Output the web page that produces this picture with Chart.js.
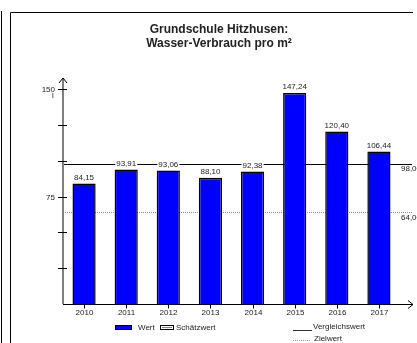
<!DOCTYPE html>
<html>
<head>
<meta charset="utf-8">
<script src="https://cdn.jsdelivr.net/npm/chart.js@4"></script>
<style>
html,body{margin:0;padding:0;background:#fff;}
#c{display:block;}
</style>
</head>
<body>
<canvas id="c" width="417" height="343" style="width:417px;height:343px"></canvas>
<script>
const titleLines = ['Grundschule Hitzhusen:', 'Wasser-Verbrauch pro m²'];
const years = ['2010','2011','2012','2013','2014','2015','2016','2017'];
const values = [84.15, 93.91, 93.06, 88.10, 92.38, 147.24, 120.40, 106.44];
const valueLabels = ['84,15','93,91','93,06','88,10','92,38','147,24','120,40','106,44'];
const referenceValue = 98.0;   // Vergleichswert
const referenceLabel = '98,00';
const targetValue = 64.0;      // Zielwert
const targetLabel = '64,00';
const yTickValues = [25, 50, 75, 100, 125, 150];
const yTickLabels = {75: '75', 150: '150'};
const yUnit = 'l';
const legendLabels = ['Wert', 'Schätzwert', 'Vergleichswert', 'Zielwert'];

const FONT = '"Liberation Sans", Arial, sans-serif';

const decor = {
  id: 'decor',
  beforeDatasetsDraw(chart) {
    const ctx = chart.ctx;
    const x = chart.scales.x, y = chart.scales.y;
    const ca = chart.chartArea;
    ctx.save();
    ctx.strokeStyle = '#000';
    ctx.lineWidth = 1;
    ctx.beginPath();
    ctx.moveTo(1.5, 11); ctx.lineTo(1.5, 343);
    ctx.moveTo(10.5, 343); ctx.lineTo(10.5, 12.5); ctx.lineTo(413, 12.5);
    ctx.stroke();

    ctx.fillStyle = '#222';
    ctx.font = 'bold 12px ' + FONT;
    ctx.textAlign = 'center';
    ctx.textBaseline = 'middle';
    ctx.fillText(titleLines[0], 219, 30);
    ctx.fillText(titleLines[1], 219, 44);

    const axisX = ca.left;
    const lineEnd = 412;
    const yr = Math.round(y.getPixelForValue(referenceValue)) + 0.5;
    ctx.strokeStyle = '#000';
    ctx.lineWidth = 1;
    ctx.beginPath(); ctx.moveTo(axisX, yr); ctx.lineTo(lineEnd, yr); ctx.stroke();
    const yt = Math.round(y.getPixelForValue(targetValue)) + 0.5;
    ctx.strokeStyle = '#888';
    ctx.setLineDash([1, 1]);
    ctx.beginPath(); ctx.moveTo(axisX, yt); ctx.lineTo(lineEnd, yt); ctx.stroke();
    ctx.setLineDash([]);

    const y0 = y.getPixelForValue(0);
    const yTop = y.getPixelForValue(150) - 11;
    ctx.strokeStyle = '#808080';
    ctx.lineWidth = 2;
    ctx.beginPath(); ctx.moveTo(axisX, y0); ctx.lineTo(axisX, yTop); ctx.stroke();
    ctx.strokeStyle = '#000';
    ctx.lineWidth = 1;
    ctx.beginPath();
    ctx.moveTo(axisX - 4, yTop + 5); ctx.lineTo(axisX, yTop); ctx.lineTo(axisX + 4, yTop + 5);
    ctx.stroke();
    ctx.font = '8px ' + FONT;
    ctx.textAlign = 'right';
    ctx.textBaseline = 'middle';
    ctx.fillStyle = '#222';
    yTickValues.forEach(v => {
      const py = Math.round(y.getPixelForValue(v)) + 0.5;
      ctx.beginPath(); ctx.moveTo(axisX - 5, py); ctx.lineTo(axisX + 4, py); ctx.stroke();
      if (yTickLabels[v]) ctx.fillText(yTickLabels[v], axisX - 8, py);
    });
    ctx.textAlign = 'center';
    ctx.fillText(yUnit, axisX - 10, y.getPixelForValue(150) + 7);

    ctx.restore();
  },
  afterDatasetsDraw(chart) {
    const ctx = chart.ctx;
    const x = chart.scales.x, y = chart.scales.y;
    const ca = chart.chartArea;
    ctx.save();
    const y0 = Math.round(y.getPixelForValue(0)) + 0.5;
    ctx.strokeStyle = '#000';
    ctx.lineWidth = 1;
    ctx.beginPath(); ctx.moveTo(ca.left, y0); ctx.lineTo(413, y0); ctx.stroke();
    ctx.beginPath(); ctx.moveTo(408, y0 - 4); ctx.lineTo(413, y0); ctx.lineTo(408, y0 + 4); ctx.stroke();
    ctx.font = '8px ' + FONT;
    ctx.fillStyle = '#222';
    ctx.textAlign = 'center';
    ctx.textBaseline = 'middle';
    years.forEach((yr, i) => {
      const px = Math.round(x.getPixelForValue(i)) + 0.5;
      ctx.beginPath(); ctx.moveTo(px, y0); ctx.lineTo(px, y0 + 4); ctx.stroke();
      ctx.fillText(yr, px, 313);
    });

    values.forEach((v, i) => {
      const px = x.getPixelForValue(i);
      const py = y.getPixelForValue(v) - 6;
      const t = valueLabels[i];
      const w = ctx.measureText(t).width;
      ctx.fillStyle = '#fff';
      ctx.fillRect(px - w / 2 - 1, py - 4, w + 2, 8);
      ctx.fillStyle = '#222';
      ctx.fillText(t, px, py);
    });

    ctx.textAlign = 'left';
    ctx.fillText(referenceLabel, 401, y.getPixelForValue(referenceValue) + 5);
    ctx.fillText(targetLabel, 401, y.getPixelForValue(targetValue) + 6);

    // legend
    ctx.fillStyle = '#0000FF';
    ctx.fillRect(115, 325, 17, 5);
    ctx.strokeStyle = '#000';
    ctx.strokeRect(115.5, 325.5, 16, 4);
    ctx.fillStyle = '#222';
    ctx.fillText(legendLabels[0], 138, 327.5);
    ctx.fillStyle = '#fff';
    ctx.fillRect(160, 325, 14, 5);
    ctx.fillStyle = '#6a7cff';
    ctx.fillRect(162, 327, 10, 1);
    ctx.strokeStyle = '#000';
    ctx.strokeRect(160.5, 325.5, 13, 4);
    ctx.fillStyle = '#222';
    ctx.fillText(legendLabels[1], 176, 327.5);
    ctx.strokeStyle = '#333';
    ctx.beginPath(); ctx.moveTo(293, 330.5); ctx.lineTo(312, 330.5); ctx.stroke();
    ctx.fillText(legendLabels[2], 313, 327);
    ctx.strokeStyle = '#999';
    ctx.setLineDash([1, 1]);
    ctx.beginPath(); ctx.moveTo(293, 340.5); ctx.lineTo(311, 340.5); ctx.stroke();
    ctx.setLineDash([]);
    ctx.fillText(legendLabels[3], 314, 339);
    ctx.restore();
  }
};

new Chart(document.getElementById('c'), {
  type: 'bar',
  data: {
    labels: years,
    datasets: [{
      label: 'Wert',
      data: values,
      backgroundColor: '#0000FF',
      borderColor: '#000',
      borderWidth: 1.5,
      barPercentage: 0.55,
      categoryPercentage: 1
    }]
  },
  options: {
    responsive: false,
    animation: false,
    devicePixelRatio: 1,
    layout: { padding: { left: 63, right: 17, top: 89, bottom: 39 } },
    plugins: { legend: { display: false }, tooltip: { enabled: false }, title: { display: false } },
    scales: {
      x: { display: false },
      y: { display: false, min: 0, max: 150 }
    }
  },
  plugins: [decor]
});
</script>
</body>
</html>
